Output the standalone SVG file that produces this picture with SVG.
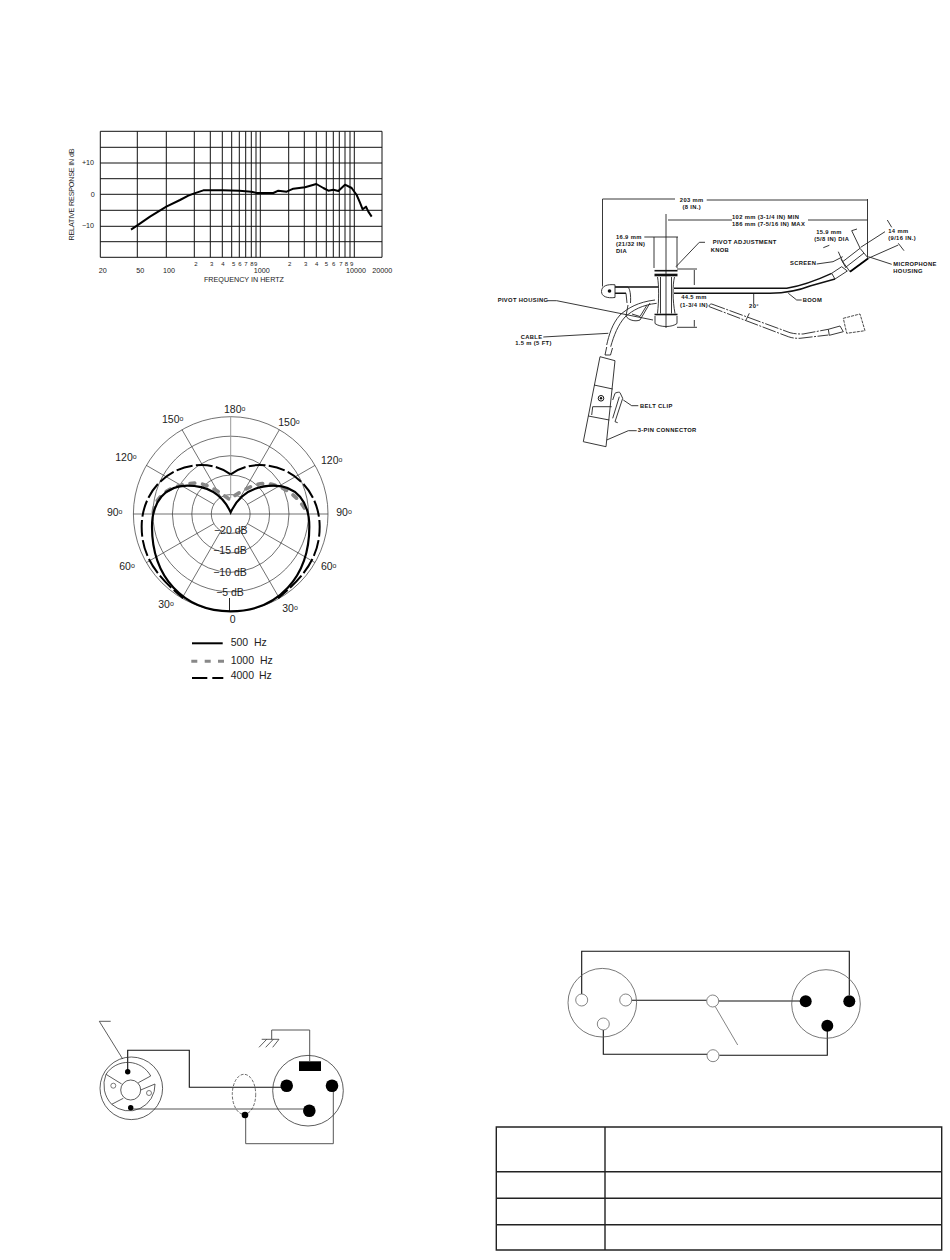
<svg xmlns="http://www.w3.org/2000/svg" width="950" height="1260" viewBox="0 0 950 1260">
<style>
text{font-family:"Liberation Sans",Arial,sans-serif;fill:#222}
.c{text-anchor:middle}
.g{fill:none;stroke:#111;stroke-width:1}
.pl{fill:none;stroke:#333;stroke-width:.7}
.t7{font-size:7.2px}.t6{font-size:6px}
.p{font-size:10.5px}.p tspan{font-size:7px}
.m{font-size:5.8px;letter-spacing:.35px;fill:#111;font-weight:bold}
.mi{fill:none;stroke:#222;stroke-width:.9}
.mb{fill:none;stroke:#111;stroke-width:1.4}
.w{fill:none;stroke:#555;stroke-width:1}
.wb{fill:none;stroke:#111;stroke-width:1.1}
.ci{fill:#fff;stroke:#666;stroke-width:.8}
.bk{fill:#000}
.tb{fill:none;stroke:#222;stroke-width:1.4}
</style>
<rect width="950" height="1260" fill="#fff"/>

<g id="response-chart">
<path class="g" d="M100.3 131.3H382V257.3H100.3ZM100.3 147.3H382M100.3 163H382M100.3 178.7H382M100.3 194.3H382M100.3 210.3H382M100.3 226.3H382M100.3 241.7H382M137.3 131.3V257.3M166.3 131.3V257.3M194.3 131.3V257.3M210.3 131.3V257.3M222.3 131.3V257.3M231.7 131.3V257.3M239.3 131.3V257.3M245.7 131.3V257.3M251.3 131.3V257.3M256 131.3V257.3M260.3 131.3V257.3M288.7 131.3V257.3M304.3 131.3V257.3M316.3 131.3V257.3M326.3 131.3V257.3M333.3 131.3V257.3M339.3 131.3V257.3M345 131.3V257.3M350 131.3V257.3M354.3 131.3V257.3"/>
<path transform="translate(60 120) scale(.33333)" fill="none" stroke="#000" stroke-width="6" stroke-linejoin="round" d="M213 329L232 316L270 290L319 260L360 240L385 227L403 220L430 211L487 211L538 212L574 215L590 219L640 219L655 212L680 215L700 206L735 202L769 192L790 204L805 212L820 209L835 213L855 194L875 204L890 225L900 248L908 268L918 260L925 275L935 290"/>
<text class="t7" text-anchor="middle" transform="translate(74 194.5) rotate(-90)" textLength="92">RELATIVE RESPONSE IN dB</text>
<text class="t7 c" x="88" y="165">+10</text><text class="t7 c" x="92.7" y="197">0</text><text class="t7 c" x="88" y="227.5">−10</text>
<text class="t6 c" x="196" y="265.5">2</text><text class="t6 c" x="211.7" y="265.5">3</text><text class="t6 c" x="223" y="265.5">4</text><text class="t6 c" x="233.7" y="265.5">5</text><text class="t6 c" x="240" y="265.5">6</text><text class="t6 c" x="246" y="265.5">7</text><text class="t6 c" x="252" y="265.5">8</text><text class="t6 c" x="255.7" y="265.5">9</text>
<text class="t6 c" x="289.7" y="265.5">2</text><text class="t6 c" x="305.7" y="265.5">3</text><text class="t6 c" x="316.7" y="265.5">4</text><text class="t6 c" x="326.3" y="265.5">5</text><text class="t6 c" x="333.7" y="265.5">6</text><text class="t6 c" x="341" y="265.5">7</text><text class="t6 c" x="346.3" y="265.5">8</text><text class="t6 c" x="351.7" y="265.5">9</text>
<text class="t7 c" x="102.7" y="273">20</text><text class="t7 c" x="140.3" y="273">50</text><text class="t7 c" x="169" y="273">100</text><text class="t7 c" x="261.7" y="273">1000</text><text class="t7 c" x="356" y="273">10000</text><text class="t7 c" x="382.3" y="273">20000</text>
<text class="t7 c" x="244" y="282">FREQUENCY IN HERTZ</text>
</g>

<g id="polar-plot">
<circle class="pl" cx="230.7" cy="514" r="97.3"/><circle class="pl" cx="230.7" cy="514" r="77.8"/><circle class="pl" cx="230.7" cy="514" r="58.3"/><circle class="pl" cx="230.7" cy="514" r="38.9"/><circle class="pl" cx="230.7" cy="514" r="19.4"/>
<path class="pl" d="M133.4 514H328M182 429.7L221 497.2M279.4 429.7L240.4 497.2M146.4 465.4L213.9 504.3M315 465.4L247.5 504.3M146.4 562.6L213.9 523.7M315 562.6L247.5 523.7M182 598.3L221 530.8M279.4 598.3L240.4 530.8"/>
<path fill="none" stroke="#999" stroke-width="1" d="M230.7 416.7V498"/>
<path fill="none" stroke="#222" stroke-width="1" d="M229.5 598V611"/>
<g transform="translate(100 395) scale(.33333)" fill="none" stroke-linecap="round">
<path stroke="#888" stroke-width="11" stroke-dasharray="14 24" d="M160 352C162 330 170 315 188 298C212 276 250 266 290 264C320 267 350 285 388 313C418 292 455 268 492 265C530 265 592 292 622 355"/>
<path stroke="#000" stroke-width="6.5" stroke-linecap="butt" d="M392 352C375 315 340 272 262 272C195 272 156 320 156 395C156 545 250 649 392 649C534 649 628 545 628 395C628 320 589 272 522 272C444 272 409 315 392 352Z"/>
<path stroke="#000" stroke-width="6" stroke-linecap="butt" stroke-dasharray="50 10" d="M392 238C370 222 340 210 305 210C205 210 125 290 125 395C125 480 165 540 250 610"/>
<path stroke="#000" stroke-width="6" stroke-linecap="butt" stroke-dasharray="50 10" d="M392 238C414 222 444 210 479 210C579 210 659 290 659 395C659 480 619 540 534 610"/>
</g>
<g class="p">
<text class="p c" x="234.7" y="412.7">180<tspan dy="-2">o</tspan></text>
<text class="p c" x="172.7" y="422.7">150<tspan dy="-2">o</tspan></text>
<text class="p c" x="289" y="426">150<tspan dy="-2">o</tspan></text>
<text class="p c" x="126" y="461">120<tspan dy="-2">o</tspan></text>
<text class="p c" x="331.7" y="464">120<tspan dy="-2">o</tspan></text>
<text class="p c" x="114.7" y="515.7">90<tspan dy="-2">o</tspan></text>
<text class="p c" x="344" y="515.7">90<tspan dy="-2">o</tspan></text>
<text class="p c" x="127" y="569.7">60<tspan dy="-2">o</tspan></text>
<text class="p c" x="328.7" y="569.7">60<tspan dy="-2">o</tspan></text>
<text class="p c" x="166" y="608">30<tspan dy="-2">o</tspan></text>
<text class="p c" x="290" y="612">30<tspan dy="-2">o</tspan></text>
<text class="p c" x="232.7" y="623">0</text>
<text class="p c" x="230.7" y="533.7">−20 dB</text>
<text class="p c" x="230" y="554.3">−15 dB</text>
<text class="p c" x="230" y="575.7">−10 dB</text>
<text class="p c" x="230" y="596.3">−5 dB</text>
</g>
</g>

<g id="polar-legend">
<path fill="none" stroke="#000" stroke-width="2" d="M192 643.3H222.7"/>
<path fill="none" stroke="#888" stroke-width="3" d="M191.3 661.3H197.3M204.7 661.3H210.7M218 661.3H224"/>
<path fill="none" stroke="#000" stroke-width="2" d="M192 678H207.3M212.3 678H223.3"/>
<text class="p" x="230.7" y="645.7">500</text><text class="p" x="254" y="645.7">Hz</text>
<text class="p" x="230.7" y="663.7">1000</text><text class="p" x="260" y="663.7">Hz</text>
<text class="p" x="230.7" y="679.3">4000</text><text class="p" x="259" y="679.3">Hz</text>
</g>

<g id="microphone-drawing">
<g id="dimensions">
<path class="mi" d="M602.5 199H675M706.7 200H867.5M602.5 199V286.5M867.5 199V257M666 214V328M668 220H732M808 220H867.5M644.3 237H678M654 237V268M677 237V268M677 269H697M694.3 270V285M694.3 320V326.7M677 327.3H697M753.7 293.5V304M749.3 313.3L746 320"/>
<path class="mi" d="M851.7 230.7L857 229M851.7 230.7L860 248M823.3 247.7L829.3 245.3M838.3 251.7L842.7 261.7M860.7 247.3L885 231.7M868.3 258.3L898.3 245M887.3 220L891.7 227.3M898.3 243.3L904 250.7"/>
<path class="mi" d="M816.7 264L833 261.7L842.7 256.7M868.3 256.7L891.7 264.3M788.3 293.3L796.7 300H801.7M705 242.3H699.3L676 266.7M547.3 300.7H556.7L653 320M543.3 337L608.3 333.3M623.3 400L631.7 405.7H638.3M606.7 440L628.3 430.7H636.7"/>
</g>
<g id="boom">
<path class="mb" d="M615 287H658M615 293.3H626M674 288.3H786.7C800 286 815 281 831.7 273.3M674 293.3H770C785 293 800 290 810 286L835 279"/>
<path class="mi" d="M615 284.8C607 284 601.5 286 601.5 291.5C601.5 296.5 607 298.5 615 297.5ZM615 287H628C630 289 631 295 630.5 303M626 293.3L627 303"/>
<circle cx="609.5" cy="291" r="1.8" fill="#111"/>
<path class="mi" d="M831.7 273.3L841.7 266.7L847.3 271L835 279ZM842.7 261.7L860 248.3L868.3 258.3L850 271.7Z"/>
<path class="mi" d="M846 267L864 253M841 259L846 268"/>
<path fill="none" stroke="#000" stroke-width="1.8" d="M850 271.7L868 258.5"/>
</g>
<g id="pivot">
<path fill="none" stroke="#111" stroke-width="1.6" d="M654.5 270.7H677.5"/>
<path fill="none" stroke="#111" stroke-width="2.6" d="M654.5 275H677.5"/>
<path class="mi" d="M657.5 277C659 285 659 300 657.5 313.5M674.5 277C672.5 285 672.5 300 675 313.5M660.5 277V313.5M671.5 277V313.5"/>
<path fill="none" stroke="#111" stroke-width="1.6" d="M654.5 314.5H677.5"/>
<path class="mi" d="M655 316V323.5C660 327.5 672 327.5 677 323.5V316"/>
<path class="mi" d="M628 305L626 316C628 320 635 322 640 320L650 303M632 314L640 316.5L647 305"/>
</g>
<g id="cable">
<path class="mi" d="M655 300C638 302 628 308 620 315C612 324 609 335 606.7 345M656.7 303.3C642 305 633 310 625 317C618 325 614 335 610.7 346.7"/>
<path class="mi" d="M606.7 347L605 355H610.5L612.5 348"/>
</g>
<g id="connector-body">
<path class="mi" d="M600 356.7L615 360.7L606 446.7L583.3 441.7Z"/>
<path class="mi" d="M594 385L612.7 389M588.3 416L609.3 420M591.7 415L592.7 406.7H611.7"/>
<circle cx="601" cy="398.3" r="2.8" fill="none" stroke="#111"/><circle cx="601" cy="398.3" r="1.2" fill="#111"/>
<path class="mi" d="M612.7 400L615 393.3C617 392 620 392 620 392.7L622.7 398.3L615 421.7L617.7 422.7M612.7 418.3L619.3 396.7"/>
</g>
<g id="swung-boom">
<path fill="none" stroke="#222" stroke-width=".9" stroke-dasharray="14 1.5 2 1.5" d="M711.7 304L790 332.7C795 334 799 334 803 334L828.3 329.3M709.3 306.7L788.3 336.7C793 338.3 796 338.3 800 338.3L828.3 335"/>
<path class="mi" d="M711.7 304C709.5 304 708.5 306 709.3 306.7M828.3 329.3L840 326L843.3 331.7L829.3 335.3Z"/>
<path fill="none" stroke="#333" stroke-width=".9" stroke-dasharray="3 1" d="M843.3 318.3L860 314L865 330.7L846.7 333.3Z"/>
</g>
<g id="mic-labels" class="m">
<text class="m c" x="691.7" y="202">203 mm</text><text class="m c" x="691.7" y="208.5">(8 IN.)</text>
<text class="m" x="732" y="219">102 mm  (3-1/4 IN) MIN</text><text class="m" x="732" y="226">186 mm  (7-5/16 IN) MAX</text>
<text class="m" x="616" y="238.5">16.9 mm</text><text class="m" x="616" y="245.7">(21/32 IN)</text><text class="m" x="616" y="252.5">DIA</text>
<text class="m" x="712.7" y="244.3">PIVOT ADJUSTMENT</text><text class="m" x="710.7" y="251.7">KNOB</text>
<text class="m c" x="829" y="234.3">15.9 mm</text><text class="m c" x="831.7" y="241">(5/8 IN) DIA</text>
<text class="m" x="888.3" y="232.7">14 mm</text><text class="m" x="888.3" y="240">(9/16 IN.)</text>
<text class="m" x="790" y="265">SCREEN</text>
<text class="m" x="893.3" y="266">MICROPHONE</text><text class="m" x="893.3" y="273">HOUSING</text>
<text class="m" x="802.7" y="302">BOOM</text>
<text class="m" x="497.7" y="302">PIVOT HOUSING</text>
<text class="m c" x="694" y="299.3">44.5 mm</text><text class="m c" x="694" y="306.7">(1-3/4 IN)</text>
<text class="m c" x="754" y="308.3">20°</text>
<text class="m c" x="531.5" y="338.7">CABLE</text><text class="m c" x="533.5" y="345.3">1.5 m  (5 FT)</text>
<text class="m" x="640" y="407.7">BELT CLIP</text>
<text class="m" x="637.7" y="432">3-PIN CONNECTOR</text>
</g>
</g>

<g id="connectors-wiring-a">
<path class="wb" d="M127.7 1071.7V1050.3H189.3V1087.3H286.7"/>
<path class="w" d="M130.7 1109H309.3M245.7 1115V1143.7H333.3V1086.7M309.7 1061V1030H271.7V1039.3"/>
<path fill="none" stroke="#333" stroke-width=".8" d="M99.3 1021.3H110.7M99.3 1021.3L122.7 1059M261.7 1039.3H279M266.7 1039.3L259 1047.3M273.3 1039.3L265.7 1047.3M279 1039.3L272.7 1047.3"/>
<ellipse cx="244" cy="1094.3" rx="11.7" ry="20" fill="none" stroke="#444" stroke-width=".8" stroke-dasharray="3 1.5"/>
<circle class="bk" cx="245" cy="1115" r="3.3"/>
</g>
<g id="plug-left">
<circle fill="none" stroke="#333" stroke-width=".8" cx="131.3" cy="1088.3" r="31.3"/>
<circle fill="none" stroke="#333" stroke-width=".8" cx="130.7" cy="1090" r="10"/>
<path fill="none" stroke="#333" stroke-width=".8" d="M121.7 1084L106 1074.3A26 26 0 0 1 150.7 1076L138.3 1082.7M106 1074.3A28 28 0 0 0 111.7 1104.3L123.3 1098.3M111.7 1104.3A26 26 0 0 0 155 1084L140.7 1090"/>
<circle fill="#fff" stroke="#444" stroke-width=".7" cx="113.3" cy="1085.7" r="2.5"/><circle fill="#fff" stroke="#444" stroke-width=".7" cx="149" cy="1093" r="2.5"/>
<circle class="bk" cx="127.7" cy="1071.7" r="2.7"/><circle class="bk" cx="130.7" cy="1107.7" r="2.7"/>
</g>
<g id="plug-right">
<circle fill="none" stroke="#333" stroke-width=".8" cx="308" cy="1090.7" r="35.3"/>
<rect class="bk" x="299" y="1061.3" width="22" height="9.7"/>
<circle class="bk" cx="286.7" cy="1085.7" r="6.3"/><circle class="bk" cx="332" cy="1085.7" r="6.3"/><circle class="bk" cx="309.3" cy="1110.7" r="6.3"/>
</g>

<g id="connectors-wiring-b">
<path class="wb" d="M581.7 994V951.3H849.3V995M631.7 1000.3H706.7M718.7 1001H800M603.3 1030V1054.3H707M719.3 1055.3H827.3V1030"/>
<path fill="none" stroke="#666" stroke-width=".8" d="M715.3 1006.7L737.7 1045"/>
</g>
<g id="xlr-left">
<circle fill="none" stroke="#555" stroke-width=".8" cx="602.3" cy="1002.7" r="34.3"/>
<circle class="ci" cx="581.7" cy="1000" r="6"/><circle class="ci" cx="625.7" cy="1000" r="6"/><circle class="ci" cx="603.3" cy="1024" r="6"/>
</g>
<g id="switch-node-top"><circle class="ci" cx="712.7" cy="1001" r="6"/></g>
<g id="switch-node-bottom"><circle class="ci" cx="713" cy="1055.7" r="6"/></g>
<g id="xlr-right">
<circle fill="none" stroke="#555" stroke-width=".8" cx="826" cy="1004" r="34.3"/>
<circle class="bk" cx="805.7" cy="1001.3" r="6"/><circle class="bk" cx="849.3" cy="1001.3" r="6"/><circle class="bk" cx="827.3" cy="1025.7" r="6"/>
</g>

<g id="table">
<path class="tb" d="M496.3 1127H941.7V1250H496.3ZM605 1127V1250M496.3 1171.7H941.7M496.3 1198.3H941.7M496.3 1224.7H941.7"/>
</g>
</svg>
